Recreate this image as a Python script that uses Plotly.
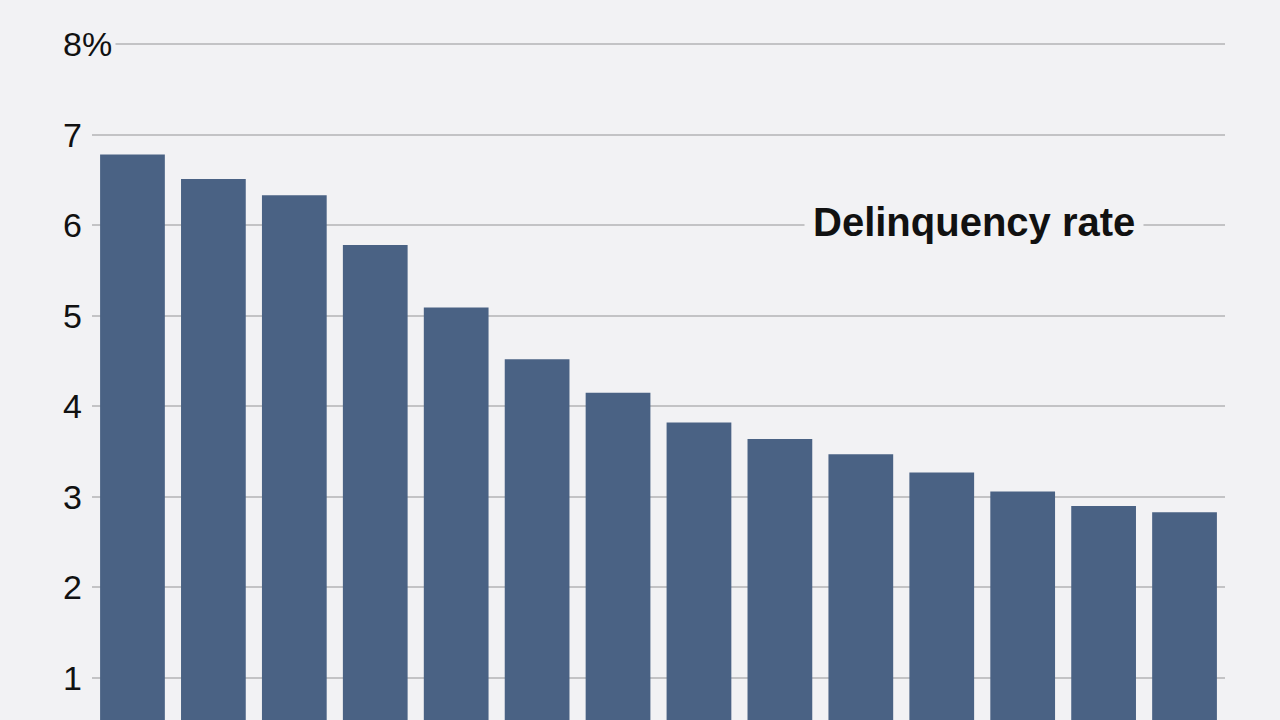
import plotly.graph_objects as go

categories = [str(i) for i in range(1, 15)]
delinquency_rate = [6.78, 6.51, 6.33, 5.78, 5.09, 4.52, 4.15, 3.82, 3.64, 3.47, 3.27, 3.06, 2.90, 2.83]
tick_values = [1, 2, 3, 4, 5, 6, 7, 8]
tick_labels = ["1", "2", "3", "4", "5", "6", "7", "8%"]
series_label = "Delinquency rate"

BG = "#f2f2f4"
BAR = "#4a6284"
GRID = "#c3c3c5"
W, H = 1280, 720
x0, x1 = 92, 1225

fig = go.Figure()
fig.add_trace(go.Bar(
    x=categories, y=delinquency_rate,
    marker=dict(color=BAR, line=dict(width=0)),
    hoverinfo="y", showlegend=False,
))

annotations = []
for v, t in zip(tick_values, tick_labels):
    annotations.append(dict(
        x=59 / W, xref="paper", xanchor="left",
        y=v, yref="y", yanchor="middle",
        text=t, showarrow=False,
        font=dict(family="Liberation Sans, Arial, sans-serif", size=34, color="#111111"),
        bgcolor=BG, borderpad=3,
    ))
annotations.append(dict(
    x=974 / W, xref="paper", xanchor="center",
    y=6, yref="y", yanchor="middle", yshift=3,
    text="<b>" + series_label + "</b>", showarrow=False,
    font=dict(family="Liberation Sans, Arial, sans-serif", size=40, color="#111111"),
    bgcolor=BG, borderpad=8,
))

fig.update_layout(
    width=W, height=H,
    margin=dict(l=0, r=0, t=0, b=0),
    paper_bgcolor=BG, plot_bgcolor=BG,
    bargap=0.2,
    annotations=annotations,
    xaxis=dict(domain=[x0 / W, x1 / W], showticklabels=False, showgrid=False,
               zeroline=False, showline=False, ticks=""),
    yaxis=dict(range=[0.536, 8.486], tickvals=tick_values, showticklabels=False,
               showgrid=True, gridcolor=GRID, gridwidth=2, zeroline=False,
               showline=False, ticks=""),
)

fig.write_html(
    "out.html",
    config={"displayModeBar": False},
    post_script="document.body.style.margin='0';document.body.style.background='" + BG + "';",
)
